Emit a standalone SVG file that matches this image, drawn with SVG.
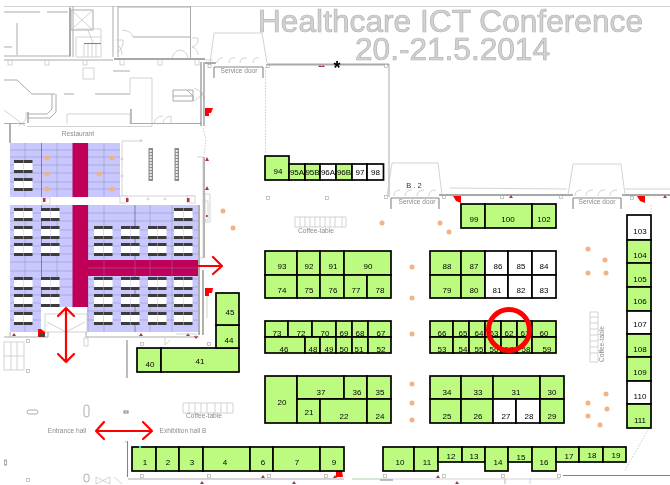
<svg xmlns="http://www.w3.org/2000/svg" xmlns:xlink="http://www.w3.org/1999/xlink" width="670" height="485" viewBox="0 0 670 485">
<style>
text{font-family:"Liberation Sans",Arial,sans-serif}
.t{font-size:31.6px;fill:#d2d2d2;stroke:#b2b2b2;stroke-width:.7}
.l{font-size:6.6px;fill:#8c8c8c}
.n{font-size:8px;fill:#000;text-anchor:middle}
.b rect{stroke:#000;stroke-width:1.7}
.g{fill:#bdfb80}
.w{fill:#fff}
.thin{fill:none;stroke:#c8c8c8;stroke-width:.8}
.mid{fill:none;stroke:#ababab;stroke-width:1}
.dark{fill:none;stroke:#858585;stroke-width:1.1}
.thick{fill:none;stroke:#a8a8a8;stroke-width:1.8}
.dash{fill:none;stroke:#a8a8a8;stroke-width:.6;stroke-dasharray:1.5 1.5}
.grid{fill:none;stroke:#8888b0;stroke-width:.45}
.rd{fill:none;stroke:#f00;stroke-width:2.2;stroke-linecap:round;stroke-linejoin:round}
.o{fill:#f4b183}
.m{fill:#f00}
.m2{fill:#b03040}
</style>
<defs>
<filter id="soft" x="0" y="0" width="100%" height="100%" filterUnits="userSpaceOnUse"><feGaussianBlur stdDeviation="0.3"/></filter>
<g id="tb"><rect x="0" y="0" width="9" height="3" fill="#3c3c3c"/><rect x="0" y="3" width="9" height="7" fill="#fff"/><rect x="0" y="10" width="9" height="3" fill="#3c3c3c"/><rect x="9.5" y="0" width="9" height="3" fill="#3c3c3c"/><rect x="9.5" y="3" width="9" height="7" fill="#fff"/><rect x="9.5" y="10" width="9" height="3" fill="#3c3c3c"/></g>
<rect id="sq" x="-1.5" y="-1.5" width="3" height="3" fill="#fff" stroke="#b0b0b0" stroke-width=".7"/>
</defs>

<g id="building" filter="url(#soft)">
<path class="thin" d="M4 6.500H670"/>
<path class="mid" d="M4 12H40M47 12H68M17 23V55M4 47H12M4 56H70M4 60H113M70 6V57M73 6V57"/>
<path class="thick" d="M70 8V56"/>
<rect class="mid" x="71" y="10" width="22" height="20"/><path class="thin" d="M71 10L93 30M93 10L71 30"/>
<path class="thin" d="M76 37H101V57H76ZM76 29H101V37M84 44V57M88 44V57M92 44V57M96 44V57M88 30L93 43"/><path class="dark" d="M84 43.500H101"/>
<path class="mid" d="M113 6V57M118 6V57M118 7H190M190.500 6V58M133 37H190"/>
<path class="thin" d="M122 30Q132 31 133 37M116 40H123Q124 47 118 52M118 45Q122 48 122 55M172 58Q174 51 180 50M188 58Q187 51 180 50M192 38H198Q199 45 192 47M192 47Q198 49 198 55"/>
<path class="thick" d="M114 59H205"/>
<path class="thin" d="M8 60V65H12V60M45 60V65H49V60M83 60V65H87V60M120 60V65H124V60M158 60V65H162V60M195 60V65H199V60"/>
<rect class="thin" x="83" y="68" width="11" height="11"/>
<path class="mid" d="M95 94H130M113 71H130M4 80H17L32 94H55M64 94H74"/>
<path class="thin" d="M130 78H152V126M130 78V94"/>
<path class="mid" d="M52 94V109L47 114H28M56 94V112L50 118H28"/>
<path class="dark" d="M28 112V123M131 109V124"/>
<path class="thin" d="M4 110L25 126M18 126Q28 122 26 112M67 114H130V124M67 114V124M154 123Q156 116 163 116M171 123V116Q164 117 163 123"/>
<path class="mid" d="M4 123.500H25M130 123.500H201"/>
<path class="thin" d="M27 126.500H152"/>
<path class="mid" d="M173 90H193V101H173ZM173 96H193M187 90L193 96V101"/>
<path class="thin" d="M194 88Q204 92 204 100M194 101Q200 98 204 91"/>
<path class="dark" d="M201 62V126M204 62V126"/>
<path class="thick" d="M10 123V143"/>
<path class="dash" d="M203 128L206 140L204 155"/>
<path class="thin" d="M205 60H213"/><path class="dark" d="M205 63H214"/>
<polygon class="m" points="205,108 213,108 211,113 209,113 209,116 205,116"/>
<polygon class="m2" points="205,161 207,157 209,161"/><polygon class="m2" points="205,190 207,186 209,190"/>
<path class="thin" d="M122 141H142M122 141V196M122 196H195"/>
<circle class="thin" cx="141" cy="140.500" r="1"/><circle class="thin" cx="122" cy="159" r="1"/><circle class="thin" cx="122" cy="176" r="1"/><circle class="thin" cx="148" cy="199" r="1"/><circle class="thin" cx="165" cy="199" r="1"/>
<rect x="148.500" y="148" width="4.500" height="33" fill="#8c8c8c"/><path d="M150.700 150V180" stroke="#eee" stroke-width="2" stroke-dasharray="2 1"/>
<rect x="174.500" y="148" width="4.500" height="33" fill="#8c8c8c"/><path d="M176.700 150V180" stroke="#eee" stroke-width="2" stroke-dasharray="2 1"/>
</g>

<g id="restaurant">
<rect x="10" y="143" width="110" height="54" fill="#c8c8ff"/>
<rect x="10" y="205" width="188.500" height="127" fill="#c8c8ff"/>
<rect x="41" y="307" width="46" height="25" fill="#fff"/>
<path class="grid" d="M10 150H120M10 157H120M10 165H120M10 173H120M10 182H120M10 189H120M25 143V197M57 143V197M88 143V197M104 143V197"/>
<path class="grid" d="M10 213H198M10 221H198M10 230H198M10 238H198M10 246H198M10 254H198M10 262H198M10 271H198M10 279H198M10 287H198M10 295H198M10 303H41M87 303H198M10 311H41M87 311H198M10 320H41M87 320H198M25 205V332M57 205V307M88 205V332M104 205V332M150 205V332M172 205V332"/>
<path d="M41.500 143V197M41.500 205V307M135 205V332" fill="none" stroke="#4c4c6c" stroke-width=".6"/>
<rect x="72.500" y="143" width="15.500" height="54" fill="#c00058"/>
<rect x="72.500" y="205" width="15.500" height="102" fill="#c00058"/>
<rect x="88" y="260" width="110" height="16" fill="#c00058"/>
<path class="grid" d="M88 268H198M104 260V276M150 260V276M172 260V276M135 260V276"/>
<use href="#tb" x="14" y="160"/><use href="#tb" x="14" y="178"/>
<use href="#tb" x="14" y="208"/><use href="#tb" x="41" y="208"/><use href="#tb" x="174" y="208"/>
<use href="#tb" x="14" y="226"/><use href="#tb" x="41" y="226"/><use href="#tb" x="94" y="226"/><use href="#tb" x="121" y="226"/><use href="#tb" x="148" y="226"/><use href="#tb" x="174" y="226"/>
<use href="#tb" x="14" y="243"/><use href="#tb" x="41" y="243"/><use href="#tb" x="94" y="243"/><use href="#tb" x="121" y="243"/><use href="#tb" x="148" y="243"/><use href="#tb" x="174" y="243"/>
<use href="#tb" x="14" y="277"/><use href="#tb" x="41" y="277"/><use href="#tb" x="94" y="277"/><use href="#tb" x="121" y="277"/><use href="#tb" x="148" y="277"/><use href="#tb" x="174" y="277"/>
<use href="#tb" x="14" y="294"/><use href="#tb" x="41" y="294"/><use href="#tb" x="94" y="294"/><use href="#tb" x="121" y="294"/><use href="#tb" x="148" y="294"/><use href="#tb" x="174" y="294"/>
<use href="#tb" x="14" y="312"/><use href="#tb" x="94" y="312"/><use href="#tb" x="121" y="312"/><use href="#tb" x="148" y="312"/><use href="#tb" x="174" y="312"/>
<rect class="thin" x="45" y="314" width="42" height="18" fill="#fff"/>
<path class="thin" d="M47 322L66 332L85 322"/>
<rect x="42" y="198" width="8" height="6" fill="#fff" stroke="#bbb" stroke-width=".6"/><rect x="120" y="196" width="7" height="7" fill="#fff" stroke="#bbb" stroke-width=".6"/><rect x="187" y="196" width="8" height="7" fill="#fff" stroke="#bbb" stroke-width=".6"/>
<rect x="43" y="198" width="2.500" height="4" class="m2"/><rect x="126" y="198" width="2.500" height="4" class="m2"/><rect x="187" y="198" width="2.500" height="4" class="m2"/>
</g>

<g id="building-lower" filter="url(#soft)">
<path class="mid" d="M4 337H48M86 337H199M10 332V337M48 332V337M86 332V337"/>
<path class="thick" d="M199 205V335M204 157V258"/>
<path class="thin" d="M197 157H203V258H197M205 194H210V222H205Z"/>
<path class="m2" d="M206 215h2v2h-2z"/><path class="thin" d="M205 201H208V220H205" stroke="#f4b0b0"/>
<path class="thick" d="M203 270V335"/><path class="thin" d="M207 295V318"/>
<polygon class="m" points="205,288 213,288 212,293 209,293 209,296 205,296"/>
<polygon class="m" points="38,329 41,329 45,332 45,337 38,337"/><rect x="39" y="333" width="6" height="4" fill="#444"/>
<polygon class="m2" points="12,336 14,333 16,336"/><polygon class="m2" points="139,336 141,333 143,336"/><polygon class="m2" points="186,336 188,333 190,336"/><polygon class="m2" points="194,336 196,339 198,336"/>
<path class="thin" d="M176 334H196V337M165 337V345L170 340"/>
<rect class="thin" x="84" y="338" width="4" height="8"/>
<rect class="thin" x="4" y="342" width="20" height="28"/><path class="thin" d="M4 356H24M11 342V370M17 342V370"/>
<use href="#sq" x="28" y="341"/><use href="#sq" x="28" y="371"/><use href="#sq" x="142" y="344"/><use href="#sq" x="209" y="344"/>
<path class="dark" d="M127 340V378M127.500 441V477"/><path class="thin" d="M125 376H128M124 442H127"/>
<rect class="mid" x="27" y="410" width="11" height="4" rx="2" fill="none"/>
<rect class="mid" x="84" y="405" width="5" height="12" rx="2.500" fill="none"/>
<path class="dark" d="M124 411H128V413H124Z"/>
<rect class="mid" x="4.500" y="460" width="2" height="5" fill="none"/>
<rect class="mid" x="84" y="474" width="5" height="8" rx="2.500" fill="none"/>
<use href="#sq" x="28" y="480"/>
<path class="thin" d="M96 477L110 484V477L96 484ZM114 477L122 484"/>
<path class="mid" d="M128 479H344"/><path class="thin" d="M352 479H400"/>
<path d="M352 479H380" stroke="#bfe8bf" fill="none"/><path d="M380 480H393" stroke="#808080" fill="none"/>
<path class="thin" d="M400 479H505V484M505 479H560M505 478V484M530 478V484"/>
<use href="#sq" x="142" y="476"/><use href="#sq" x="209" y="476"/><use href="#sq" x="269" y="476"/><use href="#sq" x="326" y="476"/><use href="#sq" x="385" y="476"/><use href="#sq" x="444" y="476"/><use href="#sq" x="503" y="476"/><use href="#sq" x="559" y="476"/>
<polygon class="m2" points="261,478 263,475 265,478"/><polygon class="m2" points="333,478 335,475 337,478"/><polygon class="m2" points="436,478 438,475 440,478"/><polygon class="m2" points="200,484 202,481 204,484"/><polygon class="m2" points="292,484 294,481 296,484"/><polygon class="m2" points="455,484 457,481 459,484"/>
<polygon class="m" points="336,471 342,471 343,477 336,477"/>
<path class="dark" d="M563 475.500H670"/>
<path class="dash" d="M648 430L625 470"/>
</g>

<g id="service-doors" filter="url(#soft)">
<path class="thin" d="M214 33H262M214 33L210 63M262 33L267 63"/>
<path class="thin" d="M217 63Q218 57 223 58M229 63Q229 57 235 58M240 63Q240 57 247 58M253 63Q253 57 259 58"/>
<path class="dark" d="M214 67H263M214 67V78M263 67V78"/>
<path class="thick" d="M205 63H216"/>
<use href="#sq" x="209.500" y="66"/><use href="#sq" x="268" y="66"/>
<path class="thick" d="M267 64.500H389"/>
<path class="mid" d="M389 64V197"/>
<path class="dash" d="M265.500 67V154"/>
<polygon class="m2" points="318,67 320,65 322,67"/><polygon class="m2" points="321,67 323,65 325,67"/>
<use href="#sq" x="386" y="66"/><use href="#sq" x="268" y="198"/><use href="#sq" x="327" y="198"/>
<path class="thin" d="M392 163H438M392 163L387 196M438 163L442 195"/>
<path class="thin" d="M394 196Q394 190 400 190M405 196Q405 190 412 190M417 196Q417 190 424 190M429 196Q429 190 436 190"/>
<path class="dark" d="M391 198H439M391 198V209M439 198V209"/>
<use href="#sq" x="386" y="197"/><use href="#sq" x="444" y="197"/><use href="#sq" x="502" y="197"/><use href="#sq" x="561" y="197"/><use href="#sq" x="632" y="198"/>
<path class="thick" d="M439 195H573M622 195H670"/>
<path class="thin" d="M450 188L567 189M625 189H670"/>
<path class="thin" d="M573 164H621M573 164L568 195M621 164L625 195"/>
<path class="thin" d="M575 196Q575 190 581 190M586 196Q586 190 593 190M598 196Q598 190 605 190M610 196Q610 190 617 190"/>
<path class="dark" d="M573 198H621M573 198V209M621 198V209"/>
<polygon class="m" points="453,196 461,196 461,203 456,201"/><polygon class="m" points="637,196 645,196 645,203 640,201"/>
<polygon class="m2" points="509,198 511,195 513,198"/><polygon class="m2" points="663,198 665,195 667,198"/>
<path class="dash" d="M651 205V215"/>
</g>

<g id="coffee-tables" filter="url(#soft)">
<path class="thin" d="M295 217H346V227H295ZM300 217V227M305 217V227M310 217V227M315 217V227M320 217V227M325 217V227M330 217V227M335 217V227M342 217V227"/>
<path class="thin" d="M183 403H233V413H183ZM189 403V413M195 403V413M201 403V413M207 403V413M215 403V413M221 403V413M227 403V413"/>
<path class="thin" d="M590 312H598V362H590ZM590 317H598M590 323H598M590 329H598M590 335H598M590 341H598M590 347H598M590 353H598"/>
</g>

<g id="dots">
<circle class="o" cx="47" cy="158" r="2.500"/><circle class="o" cx="112" cy="158" r="2.500"/><circle class="o" cx="47" cy="174" r="2.500"/><circle class="o" cx="99" cy="174" r="2.500"/><circle class="o" cx="47" cy="189" r="2.500"/><circle class="o" cx="112" cy="189" r="2.500"/>
<circle class="o" cx="223" cy="211" r="2.500"/><circle class="o" cx="233" cy="228" r="2.500"/><circle class="o" cx="382" cy="223" r="2.500"/><circle class="o" cx="440" cy="223" r="2.500"/><circle class="o" cx="449" cy="232" r="2.500"/>
<circle class="o" cx="412" cy="267" r="2.500"/><circle class="o" cx="412" cy="298" r="2.500"/><circle class="o" cx="412" cy="334" r="2.500"/><circle class="o" cx="412" cy="384" r="2.500"/><circle class="o" cx="412" cy="403" r="2.500"/><circle class="o" cx="412" cy="420" r="2.500"/>
<circle class="o" cx="588" cy="249" r="2.500"/><circle class="o" cx="605" cy="260" r="2.500"/><circle class="o" cx="588" cy="273" r="2.500"/><circle class="o" cx="606" cy="273" r="2.500"/><circle class="o" cx="606" cy="394" r="2.500"/><circle class="o" cx="588" cy="403" r="2.500"/><circle class="o" cx="607" cy="409" r="2.500"/><circle class="o" cx="588" cy="416" r="2.500"/><circle class="o" cx="600" cy="425" r="2.500"/>
</g>

<g id="booths" class="b">
<g id="b94"><rect class="g" x="265" y="156" width="24" height="24"/><text class="n" x="278" y="174">94</text></g>
<g id="b95A"><rect class="g" x="289" y="164" width="16" height="16"/><text class="n" x="297" y="174.500">95A</text></g>
<g id="b95B"><rect class="g" x="305" y="164" width="15" height="16"/><text class="n" x="312.500" y="174.500">95B</text></g>
<g id="b96A"><rect class="w" x="320" y="164" width="16" height="16"/><text class="n" x="328" y="174.500">96A</text></g>
<g id="b96B"><rect class="g" x="336" y="164" width="16" height="16"/><text class="n" x="344" y="174.500">96B</text></g>
<g id="b97"><rect class="w" x="352" y="164" width="15" height="16"/><text class="n" x="360" y="174.500">97</text></g>
<g id="b98"><rect class="w" x="367" y="164" width="16.500" height="16"/><text class="n" x="375.500" y="174.500">98</text></g>
<g id="b99"><rect class="g" x="461" y="204" width="24" height="24"/><text class="n" x="474" y="222">99</text></g>
<g id="b100"><rect class="g" x="485" y="204" width="47" height="24"/><text class="n" x="508" y="222">100</text></g>
<g id="b102"><rect class="g" x="532" y="204" width="24" height="24"/><text class="n" x="544" y="222">102</text></g>
<g id="b93"><rect class="g" x="265" y="251" width="32" height="24"/><text class="n" x="282" y="269">93</text></g>
<g id="b92"><rect class="g" x="297" y="251" width="23" height="24"/><text class="n" x="309" y="269">92</text></g>
<g id="b91"><rect class="g" x="320" y="251" width="24" height="24"/><text class="n" x="333" y="269">91</text></g>
<g id="b90"><rect class="g" x="344" y="251" width="47" height="24"/><text class="n" x="368" y="269">90</text></g>
<g id="b74"><rect class="g" x="265" y="275" width="32" height="23"/><text class="n" x="282" y="293">74</text></g>
<g id="b75"><rect class="g" x="297" y="275" width="23" height="23"/><text class="n" x="309" y="293">75</text></g>
<g id="b76"><rect class="g" x="320" y="275" width="24" height="23"/><text class="n" x="333" y="293">76</text></g>
<g id="b77"><rect class="g" x="344" y="275" width="23" height="23"/><text class="n" x="356" y="293">77</text></g>
<g id="b78"><rect class="g" x="367" y="275" width="24" height="23"/><text class="n" x="380" y="293">78</text></g>
<g id="b88"><rect class="g" x="430" y="251" width="31" height="24"/><text class="n" x="447" y="269">88</text></g>
<g id="b87"><rect class="g" x="461" y="251" width="24" height="24"/><text class="n" x="474" y="269">87</text></g>
<g id="b86"><rect class="w" x="485" y="251" width="23" height="24"/><text class="n" x="498" y="269">86</text></g>
<g id="b85"><rect class="w" x="508" y="251" width="24" height="24"/><text class="n" x="521" y="269">85</text></g>
<g id="b84"><rect class="w" x="532" y="251" width="24" height="24"/><text class="n" x="544" y="269">84</text></g>
<g id="b79"><rect class="g" x="430" y="275" width="31" height="23"/><text class="n" x="447" y="293">79</text></g>
<g id="b80"><rect class="g" x="461" y="275" width="24" height="23"/><text class="n" x="474" y="293">80</text></g>
<g id="b81"><rect class="w" x="485" y="275" width="23" height="23"/><text class="n" x="497" y="293">81</text></g>
<g id="b82"><rect class="w" x="508" y="275" width="24" height="23"/><text class="n" x="521" y="293">82</text></g>
<g id="b83"><rect class="w" x="532" y="275" width="24" height="23"/><text class="n" x="544" y="293">83</text></g>
<g id="b73"><rect class="g" x="265" y="321" width="23" height="16"/><text class="n" x="277" y="336">73</text></g>
<g id="b72"><rect class="g" x="288" y="321" width="24" height="16"/><text class="n" x="301" y="336">72</text></g>
<g id="b70"><rect class="g" x="312" y="321" width="24" height="16"/><text class="n" x="325" y="336">70</text></g>
<g id="b69"><rect class="g" x="336" y="321" width="16" height="16"/><text class="n" x="344" y="336">69</text></g>
<g id="b68"><rect class="g" x="352" y="321" width="16" height="16"/><text class="n" x="360" y="336">68</text></g>
<g id="b67"><rect class="g" x="368" y="321" width="23" height="16"/><text class="n" x="381" y="336">67</text></g>
<g id="b46"><rect class="g" x="265" y="337" width="40" height="16"/><text class="n" x="284" y="352">46</text></g>
<g id="b48"><rect class="g" x="305" y="337" width="15" height="16"/><text class="n" x="313" y="352">48</text></g>
<g id="b49"><rect class="g" x="320" y="337" width="16" height="16"/><text class="n" x="329" y="352">49</text></g>
<g id="b50"><rect class="g" x="336" y="337" width="16" height="16"/><text class="n" x="344" y="352">50</text></g>
<g id="b51"><rect class="g" x="352" y="337" width="16" height="16"/><text class="n" x="359" y="352">51</text></g>
<g id="b52"><rect class="g" x="368" y="337" width="23" height="16"/><text class="n" x="381" y="352">52</text></g>
<g id="b66"><rect class="g" x="430" y="321" width="23" height="16"/><text class="n" x="442" y="336">66</text></g>
<g id="b65"><rect class="g" x="453" y="321" width="16" height="16"/><text class="n" x="463" y="336">65</text></g>
<g id="b64"><rect class="g" x="469" y="321" width="16" height="16"/><text class="n" x="479" y="336">64</text></g>
<g id="b63"><rect class="g" x="485" y="321" width="16" height="16"/><text class="n" x="494" y="336">63</text></g>
<g id="b62"><rect class="g" x="501" y="321" width="16" height="16"/><text class="n" x="509" y="336">62</text></g>
<g id="b61"><rect class="g" x="517" y="321" width="15" height="16"/><text class="n" x="525" y="336">61</text></g>
<g id="b60"><rect class="g" x="532" y="321" width="24" height="16"/><text class="n" x="544" y="336">60</text></g>
<g id="b53"><rect class="g" x="430" y="337" width="23" height="16"/><text class="n" x="442" y="352">53</text></g>
<g id="b54"><rect class="g" x="453" y="337" width="16" height="16"/><text class="n" x="463" y="352">54</text></g>
<g id="b55"><rect class="g" x="469" y="337" width="16" height="16"/><text class="n" x="479" y="352">55</text></g>
<g id="b56"><rect class="g" x="485" y="337" width="16" height="16"/><text class="n" x="494" y="352">56</text></g>
<g id="b57"><rect class="g" x="501" y="337" width="16" height="16"/><text class="n" x="509" y="352">57</text></g>
<g id="b58"><rect class="g" x="517" y="337" width="15" height="16"/><text class="n" x="526" y="352">58</text></g>
<g id="b59"><rect class="g" x="532" y="337" width="24" height="16"/><text class="n" x="547" y="352">59</text></g>
<g id="b20"><rect class="g" x="265" y="376" width="32" height="47"/><text class="n" x="282" y="405">20</text></g>
<g id="b37"><rect class="g" x="297" y="376" width="47" height="23"/><text class="n" x="321" y="395">37</text></g>
<g id="b36"><rect class="g" x="344" y="376" width="23" height="23"/><text class="n" x="357" y="395">36</text></g>
<g id="b35"><rect class="g" x="367" y="376" width="24" height="23"/><text class="n" x="380" y="395">35</text></g>
<g id="b21"><rect class="g" x="297" y="399" width="23" height="24"/><text class="n" x="309" y="415">21</text></g>
<g id="b22"><rect class="g" x="320" y="399" width="47" height="24"/><text class="n" x="344" y="419">22</text></g>
<g id="b24"><rect class="g" x="367" y="399" width="24" height="24"/><text class="n" x="380" y="419">24</text></g>
<g id="b34"><rect class="g" x="430" y="376" width="31" height="23"/><text class="n" x="447" y="395">34</text></g>
<g id="b33"><rect class="g" x="461" y="376" width="32" height="23"/><text class="n" x="478" y="395">33</text></g>
<g id="b31"><rect class="g" x="493" y="376" width="47" height="23"/><text class="n" x="516" y="395">31</text></g>
<g id="b30"><rect class="g" x="540" y="376" width="24" height="23"/><text class="n" x="552" y="395">30</text></g>
<g id="b25"><rect class="g" x="430" y="399" width="31" height="24"/><text class="n" x="447" y="419">25</text></g>
<g id="b26"><rect class="g" x="461" y="399" width="32" height="24"/><text class="n" x="478" y="419">26</text></g>
<g id="b27"><rect class="w" x="493" y="399" width="23" height="24"/><text class="n" x="506" y="419">27</text></g>
<g id="b28"><rect class="w" x="516" y="399" width="24" height="24"/><text class="n" x="529" y="419">28</text></g>
<g id="b29"><rect class="g" x="540" y="399" width="24" height="24"/><text class="n" x="552" y="419">29</text></g>
<g id="b1"><rect class="g" x="132" y="447" width="24" height="24"/><text class="n" x="145" y="465">1</text></g>
<g id="b2"><rect class="g" x="156" y="447" width="23" height="24"/><text class="n" x="168" y="465">2</text></g>
<g id="b3"><rect class="g" x="179" y="447" width="24" height="24"/><text class="n" x="192" y="465">3</text></g>
<g id="b4"><rect class="g" x="203" y="447" width="47" height="24"/><text class="n" x="225" y="465">4</text></g>
<g id="b6"><rect class="g" x="250" y="447" width="23" height="24"/><text class="n" x="263" y="465">6</text></g>
<g id="b7"><rect class="g" x="273" y="447" width="47" height="24"/><text class="n" x="297" y="465">7</text></g>
<g id="b9"><rect class="g" x="320" y="447" width="24" height="24"/><text class="n" x="334" y="465">9</text></g>
<g id="b10"><rect class="g" x="383" y="447" width="31" height="24"/><text class="n" x="400" y="465">10</text></g>
<g id="b11"><rect class="g" x="414" y="447" width="24" height="24"/><text class="n" x="427" y="465">11</text></g>
<g id="b12"><rect class="g" x="438" y="447" width="24" height="15"/><text class="n" x="451" y="459">12</text></g>
<g id="b13"><rect class="g" x="462" y="447" width="23" height="15"/><text class="n" x="474" y="459">13</text></g>
<g id="b14"><rect class="g" x="485" y="447" width="23" height="24"/><text class="n" x="498" y="465">14</text></g>
<g id="b15"><rect class="g" x="508" y="447" width="24" height="15"/><text class="n" x="521" y="460">15</text></g>
<g id="b16"><rect class="g" x="532" y="447" width="24" height="24"/><text class="n" x="544" y="465">16</text></g>
<g id="b17"><rect class="g" x="556" y="447" width="23" height="15"/><text class="n" x="569" y="459">17</text></g>
<g id="b18"><rect class="g" x="579" y="447" width="24" height="15"/><text class="n" x="592" y="458">18</text></g>
<g id="b19"><rect class="g" x="603" y="447" width="23" height="15"/><text class="n" x="616" y="458">19</text></g>
<g id="b40"><rect class="g" x="137" y="348" width="24" height="24"/><text class="n" x="150" y="367">40</text></g>
<g id="b41"><rect class="g" x="161" y="348" width="78" height="24"/><text class="n" x="200" y="364">41</text></g>
<g id="b44"><rect class="g" x="216" y="325" width="23" height="23"/><text class="n" x="229" y="343">44</text></g>
<g id="b45"><rect class="g" x="216" y="293" width="23" height="32"/><text class="n" x="230" y="315">45</text></g>
<g id="b103"><rect class="w" x="627" y="215" width="24" height="25"/><text class="n" x="640" y="234">103</text></g>
<g id="b104"><rect class="g" x="627" y="240" width="24" height="23"/><text class="n" x="640" y="258">104</text></g>
<g id="b105"><rect class="g" x="627" y="263" width="24" height="24"/><text class="n" x="640" y="282">105</text></g>
<g id="b106"><rect class="g" x="627" y="287" width="24" height="24"/><text class="n" x="640" y="304">106</text></g>
<g id="b107"><rect class="w" x="627" y="311" width="24" height="23"/><text class="n" x="640" y="327">107</text></g>
<g id="b108"><rect class="g" x="627" y="334" width="24" height="23"/><text class="n" x="640" y="352">108</text></g>
<g id="b109"><rect class="g" x="627" y="357" width="24" height="24"/><text class="n" x="640" y="375">109</text></g>
<g id="b110"><rect class="w" x="627" y="381" width="24" height="23"/><text class="n" x="640" y="399">110</text></g>
<g id="b111"><rect class="g" x="627" y="404" width="24" height="24"/><text class="n" x="640" y="423">111</text></g>
</g>
<rect x="139" y="446" width="2" height="2" fill="#00e8e8"/>

<g id="connectors">
<path class="rd" d="M198 266H222M213 257L222 266L213 274"/>
<path class="rd" d="M66 308V362M58 316L66 308L74 316M58 354L66 362L74 354"/>
<path class="rd" d="M96 431H152M104 422L96 431L104 439M143 422L152 431L143 439"/>
<circle cx="509" cy="330" r="20.500" fill="none" stroke="#f00" stroke-width="5"/>
</g>

<g id="labels">
<text class="t" x="258" y="32" textLength="385">Healthcare ICT Conference</text>
<text class="t" x="355" y="60" textLength="195">20.-21.5.2014</text>
<text x="337" y="74" font-size="18" font-weight="bold" fill="#000" text-anchor="middle">*</text>
<text class="l" x="78" y="136" text-anchor="middle">Restaurant</text>
<text class="l" x="239" y="73" text-anchor="middle">Service door</text>
<text class="l" x="417" y="204" text-anchor="middle">Service door</text>
<text class="l" x="597" y="204" text-anchor="middle">Service door</text>
<text x="414" y="188" font-size="7.500" fill="#333" text-anchor="middle">B . 2</text>
<text class="l" x="316" y="233" text-anchor="middle">Coffee-table</text>
<text class="l" x="204" y="418" text-anchor="middle">Coffee-table</text>
<text class="l" transform="translate(604 344) rotate(-90)" text-anchor="middle">Coffee-table</text>
<text class="l" x="67" y="433" text-anchor="middle">Entrance hall</text>
<text class="l" x="183" y="433" text-anchor="middle">Exhibition hall B</text>
</g>
</svg>
